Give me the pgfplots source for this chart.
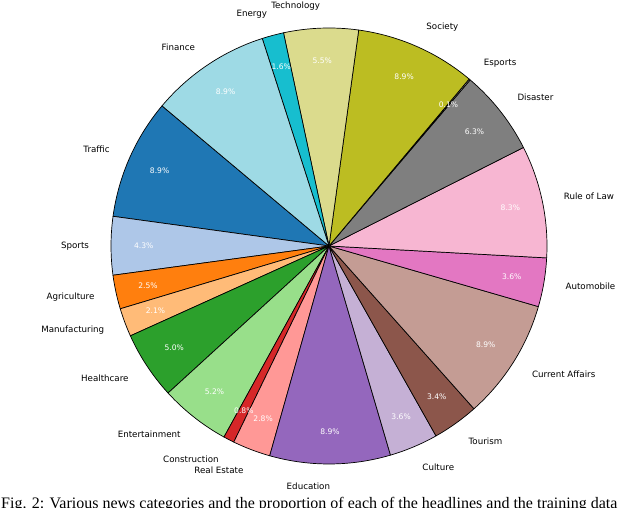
\documentclass[border=0pt]{standalone}
\usepackage{pgfplots}
\usepackage{pgfplotstable}
\pgfplotsset{compat=1.18}
\usepackage{fontspec}
\setmainfont{DejaVu Sans}
\newfontfamily\capfont{Liberation Serif}

% tab20 colours
\definecolor{c0}{HTML}{1F77B4}
\definecolor{c1}{HTML}{AEC7E8}
\definecolor{c2}{HTML}{FF7F0E}
\definecolor{c3}{HTML}{FFBB78}
\definecolor{c4}{HTML}{2CA02C}
\definecolor{c5}{HTML}{98DF8A}
\definecolor{c6}{HTML}{D62728}
\definecolor{c7}{HTML}{FF9896}
\definecolor{c8}{HTML}{9467BD}
\definecolor{c9}{HTML}{C5B0D5}
\definecolor{c10}{HTML}{8C564B}
\definecolor{c11}{HTML}{C49C94}
\definecolor{c12}{HTML}{E377C2}
\definecolor{c13}{HTML}{F7B6D2}
\definecolor{c14}{HTML}{7F7F7F}
\definecolor{c15}{HTML}{C7C7C7}
\definecolor{c16}{HTML}{BCBD22}
\definecolor{c17}{HTML}{DBDB8D}
\definecolor{c18}{HTML}{17BECF}
\definecolor{c19}{HTML}{9EDAE5}

\pgfplotstableread[col sep=comma]{
label,pct,color
Traffic,8.9,c0
Sports,4.3,c1
Agriculture,2.5,c2
Manufacturing,2.1,c3
Healthcare,5.0,c4
Entertainment,5.2,c5
Construction,0.8,c6
Real Estate,2.8,c7
Education,8.9,c8
Culture,3.6,c9
Tourism,3.4,c10
Current Affairs,8.9,c11
Automobile,3.6,c12
Rule of Law,8.3,c13
Disaster,6.3,c14
Esports,0.1,c15
Society,8.9,c16
Technology,5.5,c17
Energy,1.6,c18
Finance,8.9,c19
}\pietable

\begin{document}
\begin{tikzpicture}[
  wedge/.style={draw=black,line width=0.7pt,line join=round},
  lbl/.style={font=\fontsize{8.7}{10}\selectfont,inner sep=0pt},
  pctl/.style={font=\fontsize{7.6}{9}\selectfont,text=white,inner sep=0pt}]
\useasboundingbox (0,0) rectangle (624pt,508pt);
\clip (0,0) rectangle (624pt,508pt);

% total of the shares and degrees per percent
\def\tot{0}
\pgfplotsforeachungrouped \i in {0,...,19}{%
  \pgfplotstablegetelem{\i}{pct}\of\pietable
  \pgfmathsetmacro\tot{\tot+\pgfplotsretval}}
\pgfmathsetmacro\scl{360/\tot}

\begin{axis}[
    x=1pt, y=1pt,
    xmin=0, xmax=624, ymin=0, ymax=508,
    scale only axis, hide axis, clip=false,
    anchor=south west, at={(0,0)},
    disabledatascaling,
]

%% wedges (start angle 140, counter-clockwise)
\def\cum{140}
\pgfplotsforeachungrouped \i in {0,...,19}{%
  \pgfplotstablegetelem{\i}{pct}\of\pietable \let\p\pgfplotsretval
  \pgfplotstablegetelem{\i}{color}\of\pietable \let\col\pgfplotsretval
  \pgfmathsetmacro\a{\cum}%
  \pgfmathsetmacro\b{\cum+\p*\scl}%
  \edef\temp{\noexpand\draw[wedge,fill=\col] (axis cs:329,262) -- ++(\a:218pt)
      arc[start angle=\a,end angle=\b,radius=218pt] -- cycle;}%
  \temp
  \let\cum\b
}

%% labels and percentages
\def\cum{140}
\pgfplotsforeachungrouped \i in {0,...,19}{%
  \pgfplotstablegetelem{\i}{pct}\of\pietable \let\p\pgfplotsretval
  \pgfplotstablegetelem{\i}{label}\of\pietable \let\lab\pgfplotsretval
  \pgfmathsetmacro\a{\cum}%
  \pgfmathsetmacro\b{\cum+\p*\scl}%
  \pgfmathsetmacro\m{(\a+\b)/2}%
  \pgfmathsetmacro\cm{cos(\m)}%
  \ifdim\cm pt>0.02pt \def\anc{west}\else\def\anc{east}\fi
  \edef\temp{%
    \noexpand\path (axis cs:329,262) ++(\m:185.3pt) node[pctl] {\p\noexpand\%};
    \noexpand\path (axis cs:329,262) ++(\m:239.8pt) node[lbl,anchor=\anc] {\lab};}%
  \temp
  \let\cum\b
}

%% caption, cut at the bottom edge
\node[anchor=base west, inner sep=0pt, font=\capfont\fontsize{16}{18}\selectfont]
  at (axis cs:1,-1)
  {Fig. 2: Various news categories and the proportion of each of the headlines and the training data};

\end{axis}
\end{tikzpicture}
\end{document}
